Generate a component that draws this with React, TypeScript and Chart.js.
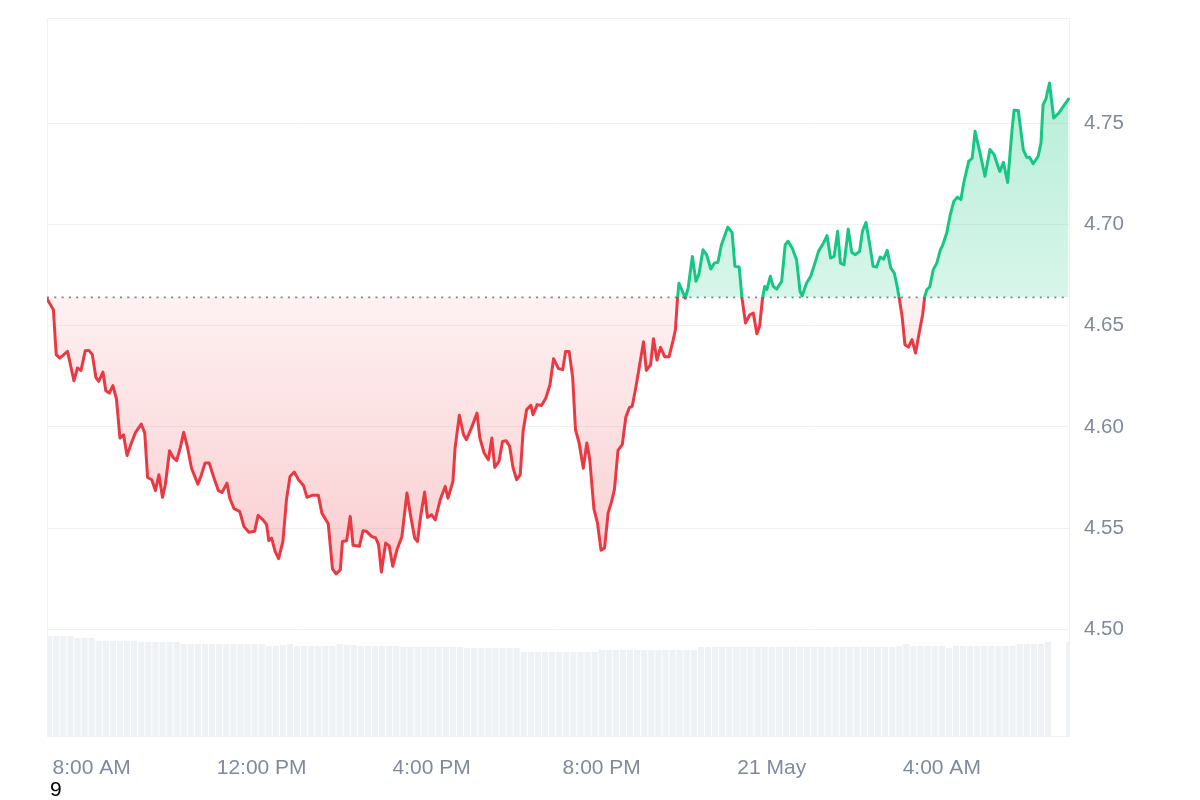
import React, { useEffect, useRef } from "react";
import { Chart, registerables } from "chart.js";

Chart.register(...registerables);

// ---- data ----
const BASELINE = 4.664;
const X_MIN = 417; // minutes from 00:00 on 20 May
const X_MAX = 1861;
const X_TICKS = [480, 720, 960, 1200, 1440, 1680];
const X_LABELS = ["8:00 AM", "12:00 PM", "4:00 PM", "8:00 PM", "21 May", "4:00 AM"];
const Y_TICKS = [4.5, 4.55, 4.6, 4.65, 4.7, 4.75];
const Y_MIN = 4.4468;
const Y_MAX = 4.802;

const TIMES = [
  417, 426, 430, 435, 446, 455, 460, 465, 471, 476, 481, 486, 490, 496, 500, 505, 510, 515, 520, 525,
  530, 535, 542, 550, 555, 559, 565, 570, 575, 580, 584, 590, 595, 600, 605, 610, 616, 621, 630, 635,
  640, 646, 652, 659, 664, 671, 675, 681, 689, 695, 702, 710, 715, 722, 727, 730, 734, 739, 744, 750,
  755, 760, 766, 772, 779, 784, 791, 800, 805, 814, 820, 825, 831, 834, 840, 845, 849, 858, 863, 868,
  875, 881, 885, 889, 895, 900, 905, 911, 918, 925, 930, 936, 940, 944, 950, 954, 960, 965, 972, 979,
  983, 990, 993, 999, 1005, 1009, 1016, 1024, 1028, 1034, 1040, 1045, 1049, 1055, 1060, 1065, 1070, 1075, 1080, 1085,
  1089, 1094, 1100, 1103, 1109, 1115, 1121, 1127, 1132, 1139, 1145, 1149, 1154, 1159, 1163, 1168, 1174, 1179, 1183, 1189,
  1194, 1199, 1204, 1209, 1214, 1218, 1223, 1229, 1234, 1239, 1243, 1248, 1252, 1259, 1263, 1269, 1273, 1278, 1283, 1289,
  1295, 1301, 1304, 1307, 1309, 1314, 1318, 1322, 1328, 1333, 1337, 1343, 1348, 1354, 1359, 1364, 1369, 1378, 1384, 1388,
  1394, 1398, 1403, 1409, 1414, 1419, 1423, 1427, 1430, 1433, 1438, 1442, 1447, 1454, 1459, 1463, 1469, 1475, 1480, 1483,
  1489, 1495, 1501, 1506, 1513, 1518, 1523, 1528, 1533, 1537, 1542, 1548, 1553, 1558, 1564, 1568, 1573, 1578, 1583, 1588,
  1593, 1598, 1603, 1608, 1613, 1617, 1620, 1624, 1628, 1633, 1638, 1643, 1648, 1653, 1656, 1659, 1663, 1668, 1673, 1678,
  1681, 1687, 1692, 1697, 1702, 1707, 1711, 1718, 1723, 1727, 1734, 1741, 1748, 1754, 1760, 1762, 1767, 1773, 1779, 1782,
  1788, 1795, 1800, 1804, 1809, 1816, 1820, 1823, 1827, 1832, 1838, 1845, 1859,
];

const PRICES = [
  4.6633, 4.6579, 4.6357, 4.634, 4.6373, 4.6228, 4.6291, 4.6279, 4.6376, 4.6378, 4.6357, 4.6245, 4.6225, 4.6271, 4.6179, 4.6167, 4.6204, 4.6139, 4.5945, 4.5961,
  4.5859, 4.5909, 4.5973, 4.6014, 4.5969, 4.575, 4.5739, 4.5685, 4.5764, 4.5652, 4.5714, 4.5882, 4.5849, 4.5833, 4.5895, 4.5974, 4.5887, 4.5796, 4.5717, 4.5764,
  4.5821, 4.5821, 4.5755, 4.5685, 4.5676, 4.5722, 4.5648, 4.5596, 4.5583, 4.5508, 4.548, 4.5484, 4.5563, 4.5541, 4.5517, 4.5438, 4.5451, 4.5385, 4.5349, 4.5434,
  4.564, 4.5755, 4.5777, 4.5739, 4.5711, 4.5652, 4.5662, 4.5662, 4.5574, 4.5521, 4.5298, 4.5274, 4.5294, 4.5434, 4.5438, 4.5558, 4.5415, 4.541, 4.5487, 4.5484,
  4.5459, 4.5451, 4.5418, 4.5283, 4.5426, 4.5413, 4.5311, 4.5393, 4.5459, 4.5673, 4.5566, 4.5451, 4.5434, 4.5549, 4.5678, 4.5553, 4.5566, 4.5541, 4.564, 4.5706,
  4.5648, 4.5731, 4.5895, 4.6057, 4.5961, 4.5937, 4.5994, 4.6068, 4.5945, 4.5871, 4.5838, 4.5945, 4.58, 4.583, 4.5928, 4.5932, 4.5904, 4.5796, 4.5739, 4.5764,
  4.5978, 4.6085, 4.6106, 4.606, 4.611, 4.6106, 4.6142, 4.6208, 4.6337, 4.6288, 4.6283, 4.6373, 4.6373, 4.6245, 4.5986, 4.5923, 4.5796, 4.592, 4.5842, 4.5595,
  4.5526, 4.5391, 4.5401, 4.5574, 4.5632, 4.5691, 4.5884, 4.5912, 4.6047, 4.6095, 4.6101, 4.6192, 4.6274, 4.6421, 4.6279, 4.6307, 4.6435, 4.633, 4.6393, 4.6346,
  4.6346, 4.6431, 4.648, 4.6636, 4.671, 4.6669, 4.6636, 4.6686, 4.6842, 4.6719, 4.6752, 4.6875, 4.6851, 4.678, 4.6809, 4.6813, 4.69, 4.6987, 4.6961, 4.6793,
  4.679, 4.6636, 4.6513, 4.6554, 4.6562, 4.646, 4.65, 4.6636, 4.6694, 4.6678, 4.6744, 4.6694, 4.6681, 4.6719, 4.69, 4.6917, 4.6883, 4.6826, 4.6669, 4.6648,
  4.671, 4.6744, 4.6809, 4.6867, 4.6908, 4.6945, 4.6834, 4.6842, 4.6966, 4.6809, 4.6801, 4.6977, 4.6862, 4.6851, 4.6867, 4.6966, 4.701, 4.6908, 4.6793, 4.679,
  4.6839, 4.6829, 4.6872, 4.6785, 4.676, 4.6694, 4.6636, 4.6546, 4.6406, 4.6394, 4.6431, 4.6365, 4.6463, 4.6554, 4.6645, 4.6678, 4.6691, 4.6777, 4.6809, 4.6875,
  4.6895, 4.6958, 4.7048, 4.7114, 4.7135, 4.7123, 4.7205, 4.7312, 4.7328, 4.746, 4.7353, 4.7238, 4.737, 4.7345, 4.7279, 4.7262, 4.7307, 4.7208, 4.746, 4.7564,
  4.7563, 4.737, 4.7332, 4.7332, 4.73, 4.7336, 4.7402, 4.7592, 4.762, 4.7699, 4.7526, 4.755, 4.762,
];

const VOL_START = 420;
const VOL_STEP = 10;
const VOL_MAX = 719;
const VOLUMES = [
  101, 101, 101, 101, 99, 99, 99, 96, 96, 96, 96, 96, 96, 95, 95, 95, 95, 95, 95, 93,
  93, 93, 93, 93, 93, 93, 93, 93, 93, 93, 93, 91, 91, 92, 93, 91, 91, 91, 91, 91,
  91, 93, 92, 92, 91, 91, 91, 91, 91, 91, 90, 90, 90, 90, 90, 90, 90, 90, 90, 89,
  89, 89, 89, 89, 89, 89, 89, 85, 85, 85, 85, 85, 85, 85, 85, 85, 85, 85, 87, 87,
  87, 87, 87, 87, 87, 87, 87, 87, 87, 87, 87, 87, 90, 90, 90, 90, 90, 90, 90, 90,
  90, 90, 90, 90, 90, 90, 90, 90, 90, 90, 90, 90, 90, 90, 90, 90, 90, 90, 90, 90,
  91, 93, 91, 91, 91, 91, 91, 89, 91, 91, 91, 91, 91, 91, 91, 91, 91, 93, 93, 93,
  93, 95, 0, 0, 95,
];

// ---- styles ----
const GREEN = "#16c784";
const RED = "#ea3943";
const GRID = "#eff2f5";
const LABEL = "#808a9d";
const FONT = "'Liberation Sans', Arial, Helvetica, sans-serif";

function clamp01(v: number) {
  return Math.min(1, Math.max(0, v));
}

function lineGradient(chart: any) {
  const { ctx, chartArea, scales } = chart;
  if (!chartArea || !scales.y) return RED;
  const { top, bottom } = chartArea;
  const s = clamp01((scales.y.getPixelForValue(BASELINE) - top) / (bottom - top));
  const g = ctx.createLinearGradient(0, top, 0, bottom);
  g.addColorStop(0, GREEN);
  g.addColorStop(s, GREEN);
  g.addColorStop(s, RED);
  g.addColorStop(1, RED);
  return g;
}

function fillGradient(chart: any) {
  const { ctx, chartArea, scales } = chart;
  if (!chartArea || !scales.y) return "rgba(234,57,67,0.1)";
  const { top, bottom } = chartArea;
  const h = bottom - top;
  const s = clamp01((scales.y.getPixelForValue(BASELINE) - top) / h);
  const sHi = clamp01((scales.y.getPixelForValue(Math.max(...PRICES)) - top) / h);
  const sLo = clamp01((scales.y.getPixelForValue(Math.min(...PRICES)) - top) / h);
  const g = ctx.createLinearGradient(0, top, 0, bottom);
  g.addColorStop(0, "rgba(22,199,132,0.34)");
  g.addColorStop(Math.min(sHi, s), "rgba(22,199,132,0.31)");
  g.addColorStop(s, "rgba(22,199,132,0.17)");
  g.addColorStop(s, "rgba(234,57,67,0.07)");
  g.addColorStop(Math.max(sLo, s), "rgba(234,57,67,0.25)");
  g.addColorStop(1, "rgba(234,57,67,0.27)");
  return g;
}

const framePlugin = {
  id: "frame",
  beforeDatasetsDraw(chart: any) {
    const { ctx, chartArea: a } = chart;
    ctx.save();
    ctx.strokeStyle = GRID;
    ctx.lineWidth = 1;
    ctx.strokeRect(a.left + 0.5, a.top + 0.5, a.right - a.left - 1, a.bottom - a.top - 1);
    ctx.restore();
  },
};

export default function App() {
  const ref = useRef<HTMLCanvasElement | null>(null);

  useEffect(() => {
    if (!ref.current) return;
    const chart = new Chart(ref.current, {
      type: "line",
      data: {
        datasets: [
          {
            type: "line",
            data: TIMES.map((t, i) => ({ x: t, y: PRICES[i] })),
            yAxisID: "y",
            borderWidth: 3,
            borderJoinStyle: "round",
            borderCapStyle: "round",
            pointRadius: 0,
            pointHoverRadius: 0,
            tension: 0,
            fill: { value: BASELINE },
            borderColor: (c: any) => lineGradient(c.chart),
            backgroundColor: (c: any) => fillGradient(c.chart),
            order: 0,
          } as any,
          {
            type: "line",
            data: [
              { x: TIMES[0], y: BASELINE },
              { x: TIMES[TIMES.length - 1], y: BASELINE },
            ],
            yAxisID: "y",
            borderColor: "rgba(120,126,142,0.95)",
            borderWidth: 1.6,
            borderDash: [2, 5.3],
            pointRadius: 0,
            fill: false,
            order: 1,
          } as any,
          {
            type: "bar",
            data: VOLUMES.map((v, i) => ({ x: VOL_START + i * VOL_STEP, y: v })),
            yAxisID: "yv",
            backgroundColor: "#eff2f5",
            borderWidth: 0,
            barPercentage: 0.88,
            categoryPercentage: 1,
            order: 2,
          } as any,
        ],
      },
      options: {
        responsive: false,
        devicePixelRatio: 1,
        animation: false,
        layout: { padding: { left: 47, top: 18, right: 0, bottom: 0 } },
        plugins: {
          legend: { display: false },
          tooltip: { enabled: false },
        },
        events: [],
        scales: {
          x: {
            type: "linear",
            min: X_MIN,
            max: X_MAX,
            offset: false,
            afterBuildTicks: (s: any) => {
              s.ticks = X_TICKS.map((v) => ({ value: v }));
            },
            afterFit: (s: any) => {
              s.height = 63;
              s.paddingLeft = 0;
              s.paddingRight = 0;
            },
            ticks: {
              autoSkip: false,
              maxRotation: 0,
              padding: 19,
              color: LABEL,
              font: { family: FONT, size: 21 },
              callback: (_v: any, i: number) => X_LABELS[i],
            },
            grid: { display: false, drawTicks: false },
            border: { display: false },
          },
          y: {
            type: "linear",
            position: "right",
            min: Y_MIN,
            max: Y_MAX,
            afterBuildTicks: (s: any) => {
              s.ticks = Y_TICKS.map((v) => ({ value: v }));
            },
            afterFit: (s: any) => {
              s.width = 130;
              s.paddingTop = 0;
              s.paddingBottom = 0;
            },
            ticks: {
              padding: 14,
              color: LABEL,
              font: { family: FONT, size: 20.5 },
              callback: (v: any) => Number(v).toFixed(2),
            },
            grid: { color: GRID, lineWidth: 1, drawTicks: false },
            border: { display: false },
          },
          yv: {
            type: "linear",
            display: false,
            min: 0,
            max: VOL_MAX,
          },
        },
      } as any,
      plugins: [framePlugin],
    });
    return () => chart.destroy();
  }, []);

  return (
    <div
      style={{
        position: "fixed",
        left: 0,
        top: 0,
        width: 1200,
        height: 800,
        background: "#ffffff",
        overflow: "hidden",
      }}
    >
      <canvas ref={ref} width={1200} height={800} style={{ display: "block", width: 1200, height: 800 }} />
      <div
        style={{
          position: "absolute",
          left: 50,
          top: 777,
          fontFamily: FONT,
          fontSize: 21,
          lineHeight: "24px",
          color: "#000",
        }}
      >
        9
      </div>
    </div>
  );
}
